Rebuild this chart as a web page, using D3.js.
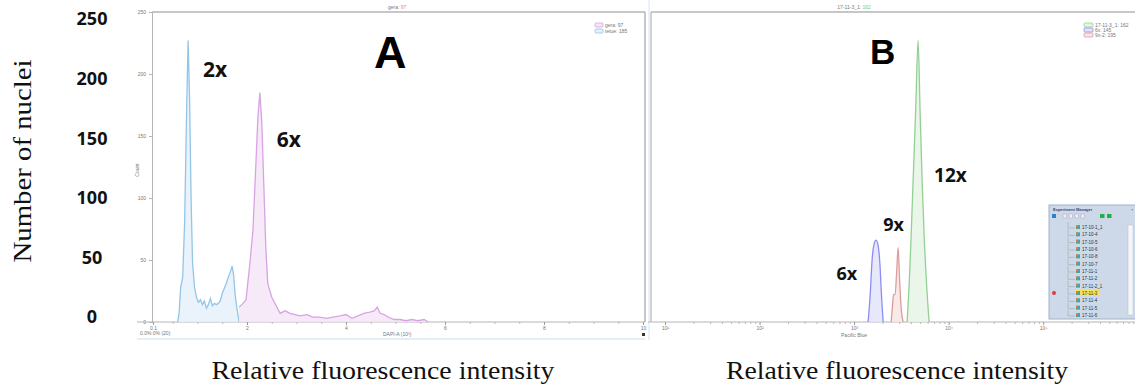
<!DOCTYPE html>
<html>
<head>
<meta charset="utf-8">
<script src="https://cdn.jsdelivr.net/npm/d3@7"></script>
<style>
  body { margin: 0; background: #fff; }
  svg { display: block; }
  .tiny { font-family: "Liberation Sans", sans-serif; font-size: 5px; fill: #777; }
</style>
</head>
<body>
<div id="chart"></div>
<script>
// ---- data ----
const countTicks = [0, 50, 100, 150, 200, 250];

// panel A: linear intensity (x 10^3), counts
const aTicks = [0.1, 2, 4, 6, 8, 10];
const aBlueX = [0.60, 0.63, 0.66, 0.70, 0.74, 0.78, 0.81, 0.84, 0.87, 0.90, 0.94, 0.98, 1.02, 1.06, 1.10, 1.14, 1.18, 1.22, 1.26, 1.30, 1.34, 1.38, 1.42, 1.46, 1.50, 1.54, 1.58, 1.62, 1.66, 1.70, 1.73, 1.76, 1.80, 1.84];
const aBlueN = [0, 8, 28, 36, 80, 170, 227, 180, 100, 48, 28, 20, 16, 18, 14, 17, 11, 14, 19, 13, 15, 14, 15, 17, 23, 27, 31, 36, 40, 45, 38, 22, 10, 0];
const aPinkX = [1.84, 1.92, 1.98, 2.06, 2.12, 2.18, 2.22, 2.26, 2.30, 2.34, 2.38, 2.42, 2.50, 2.59, 2.67, 2.77, 2.87, 2.97, 3.07, 3.21, 3.33, 3.47, 3.60, 3.74, 3.88, 4.00, 4.12, 4.24, 4.36, 4.48, 4.57, 4.63, 4.69, 4.77, 4.85, 4.97, 5.09, 5.21, 5.33, 5.45, 5.58, 5.66];
const aPinkN = [12, 15, 18, 48, 74, 128, 165, 185, 160, 110, 60, 31, 20, 13, 7, 9, 7, 6, 5, 6, 4, 4, 3, 4, 5, 6, 3, 5, 7, 8, 9, 12, 7, 6, 4, 2, 2, 1, 2, 1, 2, 0];
const aLegend = ["gera: 97", "tetue: 185"];

// panel B: log intensity (Pacific Blue), counts
const bTicks = [1e1, 1e2, 1e3, 1e4, 1e5];
const bBlueX = [1406, 1480, 1550, 1630, 1710, 1800, 1885, 1935, 2030];
const bBlueN = [0, 22, 50, 63, 66, 61, 44, 26, 0];
const bRedX = [2466, 2553, 2617, 2716, 2818, 2924, 3030, 3142, 3303];
const bRedN = [0, 14, 22, 22, 40, 60, 34, 12, 0];
const bGreenX = [3639, 3822, 4013, 4210, 4477, 4753, 4990, 5244, 5508, 5851, 6218];
const bGreenN = [0, 30, 70, 114, 170, 227, 170, 114, 70, 30, 0];
const bLegend = ["17-11-3_1: 162", "6x: 145", "9x-2: 195"];

const ploidyA = ["2x", "6x"];
const ploidyB = ["6x", "9x", "12x"];
const managerItems = ["17-10-1_1", "17-10-4", "17-10-5", "17-10-6", "17-10-8", "17-10-7", "17-11-1", "17-11-2", "17-11-2_1", "17-11-3", "17-11-4", "17-11-5", "17-11-6"];
const selectedItem = "17-11-3";

// ---- drawing ----
const W = 1135, H = 386;
const svg = d3.select("#chart").append("svg").attr("width", W).attr("height", H);
svg.append("rect").attr("width", W).attr("height", H).attr("fill", "#fff");

const y = d3.scaleLinear().domain([0, 250]).range([322, 12]);
const xA = d3.scaleLinear().domain([0, 10]).range([148, 643]);
const xB = d3.scaleLog().domain([6.93, 9.37e5]).range([650, 1135]);

const frame = "#b5b5b5";

// panel A frame
const gA = svg.append("g");
gA.append("line").attr("x1", 152).attr("x2", 645).attr("y1", 12).attr("y2", 12).attr("stroke", frame).attr("stroke-width", 1.5);
gA.append("line").attr("x1", 645).attr("x2", 645).attr("y1", 12).attr("y2", 322).attr("stroke", frame).attr("stroke-width", 1.5);
gA.append("line").attr("x1", 649).attr("x2", 649).attr("y1", 0).attr("y2", 340).attr("stroke", "#d6e4f2").attr("stroke-width", 1);
gA.append("line").attr("x1", 137).attr("x2", 645).attr("y1", 339).attr("y2", 339).attr("stroke", "#dde9f5").attr("stroke-width", 1.5);

// tiny inner count axis
gA.append("g").attr("transform", "translate(152,0)")
  .call(d3.axisLeft(y).tickValues(countTicks).tickSize(3).tickFormat(d => d))
  .call(g => g.select(".domain").attr("stroke", frame))
  .call(g => g.selectAll("line").attr("stroke", frame))
  .call(g => g.selectAll("text").attr("class", "tiny").attr("font-size", 4).attr("fill", "#999"));
gA.append("text").attr("class", "tiny").attr("transform", "translate(139,170) rotate(-90)").attr("text-anchor", "middle").text("Count");

// A x axis
gA.append("line").attr("x1", 137).attr("x2", 645).attr("y1", 322).attr("y2", 322).attr("stroke", frame).attr("stroke-width", 1.2);
gA.append("g").attr("transform", "translate(0,322)")
  .call(d3.axisBottom(xA).tickValues(d3.range(0.5, 10, 0.5)).tickSize(2).tickFormat(""))
  .call(g => g.select(".domain").remove())
  .call(g => g.selectAll("line").attr("stroke", "#bbb"));
gA.append("g").attr("transform", "translate(0,322)")
  .call(d3.axisBottom(xA).tickValues(aTicks).tickSize(3).tickFormat(d => d))
  .call(g => g.select(".domain").remove())
  .call(g => g.selectAll("line").attr("stroke", "#999"))
  .call(g => g.selectAll("text").attr("class", "tiny").attr("font-size", 5).attr("dy", "0.3em"));
gA.append("text").attr("class", "tiny").attr("x", 140).attr("y", 335).text("0.0%  0%   (20)");
gA.append("text").attr("class", "tiny").attr("x", 383).attr("y", 336).text("DAPI-A (10\u00b3)");
gA.append("rect").attr("x", 642).attr("y", 333).attr("width", 3).attr("height", 3).attr("fill", "#333");
gA.append("text").attr("class", "tiny").attr("x", 388).attr("y", 9).text("gera: ").append("tspan").attr("fill", "#c77fd6").text("97");

// A series
const aColors = [{ line: "#d8a3e3", fill: "#f6e6f7" }, { line: "#93c5e8", fill: "#e6f1fa" }];
const areaA = d3.area().x(d => xA(d[0])).y0(y(0)).y1(d => y(d[1]));
const lineA = d3.line().x(d => xA(d[0])).y(d => y(d[1]));
const aBlue = d3.zip(aBlueX, aBlueN);
const aPink = d3.zip(aPinkX, aPinkN);
[[aBlue, aColors[1]], [aPink, aColors[0]]].forEach(([s, c]) => {
  gA.append("path").datum(s).attr("d", areaA).attr("fill", c.fill).attr("fill-opacity", 0.85);
  gA.append("path").datum(s).attr("d", lineA).attr("fill", "none").attr("stroke", c.line).attr("stroke-width", 1.3);
});

// A legend
aLegend.forEach((t, i) => {
  gA.append("rect").attr("x", 595).attr("y", 23 + i * 6).attr("width", 8).attr("height", 4).attr("rx", 1)
    .attr("fill", aColors[i].fill).attr("stroke", aColors[i].line).attr("stroke-width", 0.8);
  gA.append("text").attr("class", "tiny").attr("x", 605).attr("y", 27 + i * 6).attr("font-size", 4).text(t);
});

// panel B frame
const gB = svg.append("g");
gB.append("line").attr("x1", 651).attr("x2", 651).attr("y1", 12).attr("y2", 322).attr("stroke", frame).attr("stroke-width", 1.2);
gB.append("line").attr("x1", 651).attr("x2", W).attr("y1", 12).attr("y2", 12).attr("stroke", frame).attr("stroke-width", 1.5);
gB.append("line").attr("x1", 648).attr("x2", W).attr("y1", 322).attr("y2", 322).attr("stroke", frame).attr("stroke-width", 1.2);
gB.append("g").attr("transform", "translate(0,322)")
  .call(d3.axisBottom(xB).tickValues(d3.range(1, 6).flatMap(e => d3.range(2, 10).map(m => m * Math.pow(10, e)))).tickSize(2).tickFormat(""))
  .call(g => g.select(".domain").remove())
  .call(g => g.selectAll("line").attr("stroke", "#bbb"));
const sup = { 1: "\u00b9", 2: "\u00b2", 3: "\u00b3", 4: "\u2074", 5: "\u2075" };
gB.append("g").attr("transform", "translate(0,322)")
  .call(d3.axisBottom(xB).tickValues(bTicks).tickSize(3).tickFormat(d => "10" + sup[Math.round(Math.log10(d))]))
  .call(g => g.select(".domain").remove())
  .call(g => g.selectAll("line").attr("stroke", "#999"))
  .call(g => g.selectAll("text").attr("class", "tiny").attr("font-size", 5).attr("dy", "0.3em"));
gB.append("text").attr("class", "tiny").attr("x", xB(1e3)).attr("y", 337).attr("text-anchor", "middle").attr("font-size", 4).text("Pacific Blue");
gB.append("text").attr("class", "tiny").attr("x", xB(1e3)).attr("y", 9).attr("text-anchor", "middle").attr("font-size", 4).text("17-11-3_1: ").append("tspan").attr("fill", "#7cc47c").text("162");

// B series
const bColors = [{ line: "#8d8df0", fill: "#e4e4fb" }, { line: "#dd9c9c", fill: "#f8e5e5" }, { line: "#93d093", fill: "#e5f5e5" }];
const areaB = d3.area().x(d => xB(d[0])).y0(y(0)).y1(d => y(d[1])).curve(d3.curveMonotoneX);
const lineB = d3.line().x(d => xB(d[0])).y(d => y(d[1])).curve(d3.curveMonotoneX);
const bSeries = [d3.zip(bBlueX, bBlueN), d3.zip(bRedX, bRedN), d3.zip(bGreenX, bGreenN)];
bSeries.forEach((s, i) => {
  gB.append("path").datum(s).attr("d", areaB).attr("fill", bColors[i].fill).attr("fill-opacity", 0.85);
  gB.append("path").datum(s).attr("d", lineB).attr("fill", "none").attr("stroke", bColors[i].line).attr("stroke-width", 1.3);
});

// B legend (green, blue, red order)
[2, 0, 1].forEach((ci, i) => {
  gB.append("rect").attr("x", 1084).attr("y", 23 + i * 5).attr("width", 9).attr("height", 4).attr("rx", 1)
    .attr("fill", bColors[ci].fill).attr("stroke", bColors[ci].line).attr("stroke-width", 0.8);
  gB.append("text").attr("class", "tiny").attr("x", 1095).attr("y", 27 + i * 5).attr("font-size", 4).text(bLegend[i]);
});

// Experiment Manager window
const em = svg.append("g").attr("transform", "translate(1049,205)");
em.append("rect").attr("width", 88).attr("height", 114).attr("fill", "#cdd9e8").attr("stroke", "#9fb2c9");
em.append("text").attr("x", 4).attr("y", 6).attr("font-family", "Liberation Sans").attr("font-size", 4).attr("font-weight", "bold").attr("fill", "#2c4a78").text("Experiment Manager");
em.append("text").attr("x", 82).attr("y", 6).attr("font-family", "Liberation Sans").attr("font-size", 4).attr("fill", "#444").text("×");
em.append("rect").attr("x", 3).attr("y", 9).attr("width", 4).attr("height", 4).attr("fill", "#2f7fd0");
[14, 20, 26, 32].forEach(x => em.append("rect").attr("x", x).attr("y", 9).attr("width", 3.5).attr("height", 4).attr("fill", "#eef").attr("stroke", "#999").attr("stroke-width", 0.4));
[51, 58].forEach(x => em.append("rect").attr("x", x).attr("y", 9).attr("width", 4.5).attr("height", 4).attr("fill", "#22b04a"));
em.append("rect").attr("x", 79).attr("y", 20).attr("width", 5).attr("height", 90).attr("fill", "#f4f6f9").attr("stroke", "#b8c4d4").attr("stroke-width", 0.5);
const rowY = d3.scalePoint().domain(managerItems).range([23, 111]);
managerItems.forEach(name => {
  const yy = rowY(name);
  const row = em.append("g").attr("transform", `translate(0,${yy})`);
  row.append("path").attr("d", "M19,-6V0H26").attr("stroke", "#999").attr("stroke-width", 0.5).attr("fill", "none");
  if (name === selectedItem) {
    row.append("rect").attr("x", 26).attr("y", -4).attr("width", 25).attr("height", 6).attr("rx", 1).attr("fill", "#f7df5a");
    row.append("circle").attr("cx", 5).attr("cy", -1).attr("r", 2).attr("fill", "#e23a3a");
  }
  row.append("rect").attr("x", 27).attr("y", -3).attr("width", 4).attr("height", 4).attr("fill", "#4aa3a0");
  row.append("rect").attr("x", 27).attr("y", -3).attr("width", 2).attr("height", 2).attr("fill", "#e0803a");
  row.append("text").attr("x", 33).attr("y", 1).attr("font-family", "Liberation Sans").attr("font-size", 4.5).attr("fill", "#333").text(name);
});

// big count labels shared by both panels
const yLab = d3.scaleLinear().domain([0, 250]).range([317, 19]);
svg.append("g").selectAll("text").data(countTicks).join("text")
  .attr("x", 92).attr("y", d => yLab(d)).attr("dy", "0.36em").attr("text-anchor", "middle")
  .attr("font-family", "Noto Sans").attr("font-weight", "bold").attr("font-size", 18).attr("fill", "#111")
  .text(d => d);

// ploidy annotations next to peaks
const bold = (sel, size) => sel.attr("font-family", "Noto Sans").attr("font-weight", "bold").attr("font-size", size).attr("fill", "#111");
function peak(xs, ns) { const i = d3.maxIndex(ns); return [xs[i], ns[i]]; }
const pA2 = peak(aBlueX, aBlueN), pA6 = peak(aPinkX, aPinkN);
bold(svg.append("text").attr("x", xA(pA2[0]) + 15).attr("y", y(pA2[1]) + 36), 21).text(ploidyA[0]);
bold(svg.append("text").attr("x", xA(pA6[0]) + 17).attr("y", y(pA6[1]) + 54), 21).text(ploidyA[1]);
const pB6 = peak(bBlueX, bBlueN), pB9 = peak(bRedX, bRedN), pB12 = peak(bGreenX, bGreenN);
bold(svg.append("text").attr("x", xB(pB6[0]) - 19).attr("y", y(pB6[1]) + 40).attr("text-anchor", "end"), 18).text(ploidyB[0]);
bold(svg.append("text").attr("x", xB(pB9[0]) - 15).attr("y", y(pB9[1]) - 17), 18).text(ploidyB[1]);
bold(svg.append("text").attr("x", xB(pB12[0]) + 16).attr("y", y(pB12[1]) + 141), 19).text(ploidyB[2]);

// panel letters
svg.append("text").attr("x", 374).attr("y", 68).attr("font-family", "Liberation Sans").attr("font-weight", "bold").attr("font-size", 45).attr("fill", "#000").text("A");
svg.append("text").attr("x", 870).attr("y", 64).attr("font-family", "Liberation Sans").attr("font-weight", "bold").attr("font-size", 35).attr("fill", "#000").text("B");

// axis titles
const serif = sel => sel.attr("font-family", "Liberation Serif").attr("font-size", 25).attr("fill", "#111");
serif(svg.append("text").attr("transform", "translate(31,161) rotate(-90)").attr("text-anchor", "middle")
  .attr("textLength", 203).attr("lengthAdjust", "spacingAndGlyphs")).text("Number of nuclei");
serif(svg.append("text").attr("x", 383).attr("y", 379).attr("text-anchor", "middle")
  .attr("textLength", 343).attr("lengthAdjust", "spacingAndGlyphs")).text("Relative fluorescence intensity");
serif(svg.append("text").attr("x", 897).attr("y", 379).attr("text-anchor", "middle")
  .attr("textLength", 342).attr("lengthAdjust", "spacingAndGlyphs")).text("Relative fluorescence intensity");
</script>
</body>
</html>
